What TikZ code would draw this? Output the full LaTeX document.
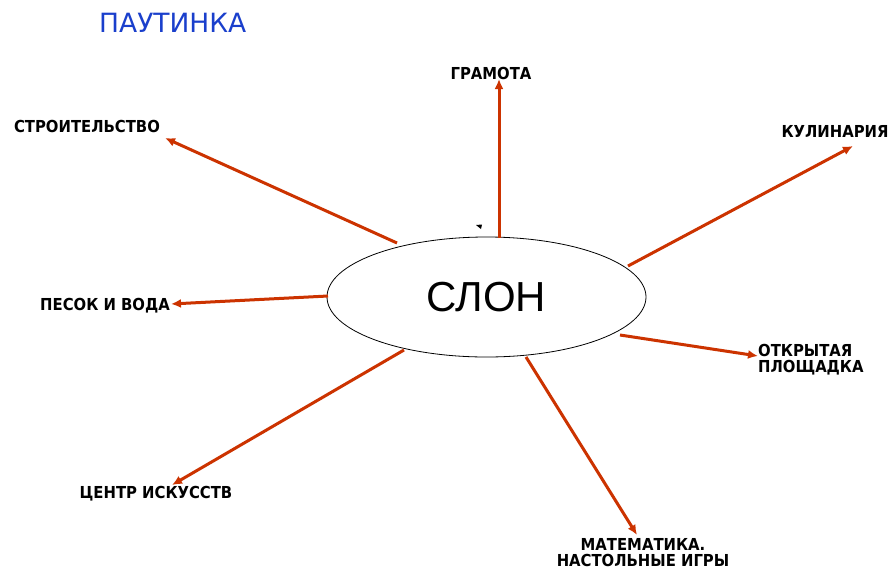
\documentclass[tikz,border=0pt]{standalone}
\usepackage{fontspec}
\setmainfont{Liberation Sans}
\newfontfamily\lblfont{DejaVu Sans Condensed}
\newfontfamily\titlefont{DejaVu Sans}
\usetikzlibrary{arrows.meta,shapes.geometric}
\definecolor{arrowred}{HTML}{CC3300}
\definecolor{titleblue}{HTML}{1A3FCC}
\tikzset{
  lbl/.style={font=\lblfont\bfseries\fontsize{16.5}{16.5}\selectfont, inner sep=0pt, text=black},
  conn/.style={draw=arrowred, line width=3pt, -{Latex[length=10pt,width=9pt]}},
}
\begin{document}
\begin{tikzpicture}[x=1pt,y=-1pt]
\useasboundingbox (0,0) rectangle (892,571);
\fill[white] (0,0) rectangle (892,571);
% title
\node[font=\titlefont\fontsize{26.5}{28}\selectfont, text=titleblue, inner sep=0pt, anchor=west] (title) at (99,23) {ПАУТИНКА};
% central ellipse
\node[draw=black, line width=0.8pt, ellipse, minimum width=319pt, minimum height=120pt, inner sep=0pt, font=\fontsize{42}{44}\selectfont] (center) at (486.5,297) {СЛОН};
% labels
\node[lbl] (gram) at (491,73) {ГРАМОТА};
\node[lbl] (stroi) at (87,126) {СТРОИТЕЛЬСТВО};
\node[lbl] (kulin) at (835,131) {КУЛИНАРИЯ};
\node[lbl] (pesok) at (105,306) {ПЕСОК И ВОДА};
\node[lbl, align=left, anchor=north west] (otkr) at (758,344) {ОТКРЫТАЯ\\ПЛОЩАДКА};
\node[lbl] (centr) at (156,494) {ЦЕНТР ИСКУССТВ};
\node[lbl, align=center, anchor=north] (matem) at (643,538) {МАТЕМАТИКА.\\НАСТОЛЬНЫЕ ИГРЫ};
% connector coordinates
\coordinate (s1) at (499,238);  \coordinate (e1) at (499,79);
\coordinate (s2) at (397,243);  \coordinate (e2) at (165,138);
\coordinate (s3) at (628,266);  \coordinate (e3) at (853,146);
\coordinate (s4) at (328,296);  \coordinate (e4) at (171,304);
\coordinate (s5) at (620,335);  \coordinate (e5) at (758,356);
\coordinate (s6) at (404,350);  \coordinate (e6) at (172,485);
\coordinate (s7) at (526,357);  \coordinate (e7) at (637,535);
\draw[conn] (s1) -- (e1);
\draw[conn] (s2) -- (e2);
\draw[conn] (s3) -- (e3);
\draw[conn] (s4) -- (e4);
\draw[conn] (s5) -- (e5);
\draw[conn] (s6) -- (e6);
\draw[conn] (s7) -- (e7);
% stray mark
\fill[black] (476,225) -- (482,224.5) -- (481,229) -- cycle;
\end{tikzpicture}
\end{document}
